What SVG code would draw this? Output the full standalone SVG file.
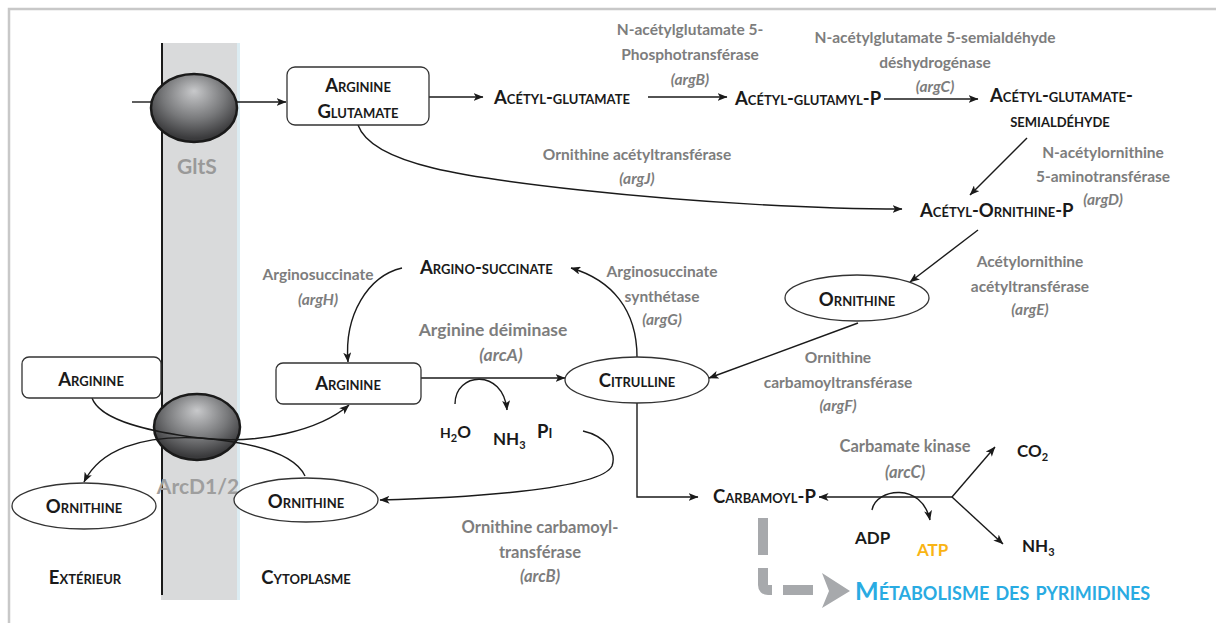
<svg xmlns="http://www.w3.org/2000/svg" width="1216" height="623" viewBox="0 0 1216 623">
<defs>
<style>
.n{font-family:Lato,"Liberation Sans",sans-serif;font-weight:bold;font-size:18.5px;font-variant:small-caps;fill:#1a1a1a}
.c{font-family:Lato,"Liberation Sans",sans-serif;font-weight:bold;font-size:17px;fill:#1a1a1a}
.e{font-family:Lato,"Liberation Sans",sans-serif;font-weight:bold;font-size:15.5px;fill:#7d7d7d;text-anchor:middle}
.i{font-style:italic}
.m{text-anchor:middle}
.ln{fill:none;stroke:#1a1a1a;stroke-width:1.4}
.ar{marker-end:url(#ah)}
.box{fill:#fff;stroke:#333;stroke-width:1.3}
.tr{fill:url(#tg);stroke:#1a1a1a;stroke-width:2.5}
.gd{fill:none;stroke:#a7a9ac;stroke-width:10}
</style>
<radialGradient id="tg" cx="50%" cy="35%" r="60%" fx="50%" fy="25%">
<stop offset="0" stop-color="#c8c9cb"/>
<stop offset="0.6" stop-color="#77787a"/>
<stop offset="1" stop-color="#3a3a3c"/>
</radialGradient>
<marker id="ah" viewBox="0 0 10 8" refX="9.5" refY="4" markerWidth="10" markerHeight="8" markerUnits="userSpaceOnUse" orient="auto">
<path d="M0,0 L10,4 L0,8 L2.5,4 z" fill="#1a1a1a"/>
</marker>
</defs>
<rect width="1216" height="623" fill="#fff"/>
<path d="M9,623 V9 H1216" fill="none" stroke="#c8c8c8" stroke-width="2.5"/>

<g id="membrane">
<rect x="161" y="43" width="79" height="557" fill="#d9dadb"/>
<rect x="237" y="43" width="3" height="557" fill="#dcecf2"/>
<line x1="162" y1="43" x2="162" y2="595" stroke="#1a1a1a" stroke-width="2"/>
<text x="197" y="174" class="m" style="font-family:Lato,'Liberation Sans',sans-serif;font-size:21px;font-weight:bold;fill:#999">GltS</text>
<text x="198" y="494" class="m" style="font-family:Lato,'Liberation Sans',sans-serif;font-size:21px;font-weight:bold;fill:#9e9e9e">ArcD1/2</text>
</g>

<g id="connectors">
<path class="ln" d="M132,102 H152"/>
<path class="ln ar" d="M236,102 H286"/>
<path class="ln ar" d="M429,97 H483"/>
<path class="ln ar" d="M648,97 H727"/>
<path class="ln ar" d="M884,99 H978"/>
<path class="ln ar" d="M1027,138 L970,195"/>
<path class="ln ar" d="M358,125 C372,165 470,178 580,190 C700,203 820,209 902,209"/>
<path class="ln ar" d="M978,230 L910,282"/>
<path class="ln ar" d="M858,323 L709,378"/>
<path class="ln ar" d="M421,378 H565"/>
<path class="ln ar" d="M455,404 C455,372 503,368 507,410"/>
<path class="ln ar" d="M637,357 C637,310 612,280 571,268"/>
<path class="ln ar" d="M402,268 C368,276 344,315 348,362"/>
<path class="ln ar" d="M637,403 V497 H698"/>
<path class="ln ar" d="M583,431 C605,436 617,452 612,466 C600,490 460,498 380,500"/>
<path class="ln ar" d="M952,497 H819"/>
<path class="ln ar" d="M952,497 L995,447"/>
<path class="ln ar" d="M952,497 L1003,544"/>
<path class="ln ar" d="M872,510 C876,488 922,482 930,520"/>
<path class="gd" d="M763,518 V555"/>
<path class="gd" d="M763,568 V585 Q763,590 768,590 H772" stroke-linejoin="round"/>
<path class="gd" d="M783,590 H813"/>
<path d="M822,573 L850,591 L822,608 L829,591 z" fill="#a7a9ac"/>
</g>

<g id="gltS"><ellipse cx="194" cy="108" rx="43" ry="34" class="tr"/></g>
<g id="arcD"><ellipse cx="197" cy="427" rx="43" ry="33" class="tr"/></g>

<g id="arcD-connectors">
<path class="ln ar" d="M92,398 C100,420 150,432 200,438 C260,445 320,430 349,405"/>
<path class="ln ar" d="M305,476 C295,455 260,443 200,438 C140,435 100,450 84,482"/>
</g>

<g id="arginine-glutamate">
<rect x="287" y="67" width="142" height="58" rx="8" class="box"/>
<text x="358" y="92" class="n m">Arginine</text>
<text x="358" y="118" class="n m">Glutamate</text>
</g>
<g id="acetyl-glutamate"><text x="562" y="104" class="n m">Acétyl-glutamate</text></g>
<g id="acetyl-glutamyl-p"><text x="735" y="105" class="n">Acétyl-glutamyl-P</text></g>
<g id="acetyl-glutamate-semialdehyde">
<text x="990" y="102" class="n">Acétyl-glutamate-</text>
<text x="1060" y="127" class="n m">semialdéhyde</text>
</g>
<g id="acetyl-ornithine-p"><text x="920" y="217" class="n">Acétyl-Ornithine-P</text></g>
<g id="ornithine-c"><ellipse cx="857" cy="298" rx="72" ry="23" class="box"/><text x="857" y="306" class="n m">Ornithine</text></g>
<g id="citrulline"><ellipse cx="637" cy="380" rx="72" ry="23" class="box"/><text x="637" y="387" class="n m">Citrulline</text></g>
<g id="argino-succinate"><text x="420" y="274" class="n">Argino-succinate</text></g>
<g id="arginine-cyto"><rect x="276" y="363" width="145" height="41" rx="7" class="box"/><text x="348" y="390" class="n m">Arginine</text></g>
<g id="arginine-ext"><rect x="22" y="357" width="139" height="41" rx="7" class="box"/><text x="91" y="386" class="n m">Arginine</text></g>
<g id="ornithine-ext"><ellipse cx="84" cy="506" rx="72" ry="23" class="box"/><text x="84" y="513" class="n m">Ornithine</text></g>
<g id="ornithine-cyto"><ellipse cx="306" cy="500" rx="72" ry="22" class="box"/><text x="306" y="508" class="n m">Ornithine</text></g>
<g id="carbamoyl-p"><text x="713" y="503" class="n">Carbamoyl-P</text></g>
<g id="compartments">
<text x="85" y="584" class="n m">Extérieur</text>
<text x="306" y="584" class="n m">Cytoplasme</text>
</g>
<g id="small-molecules">
<text x="440" y="438" class="c"><tspan font-size="14">H</tspan><tspan font-size="11" dy="4">2</tspan><tspan dy="-4">O</tspan></text>
<text x="493" y="445" class="c">NH<tspan font-size="11" dy="4">3</tspan></text>
<text x="537" y="438" class="n">Pi</text>
<text x="1017" y="457" class="c">CO<tspan font-size="11" dy="4">2</tspan></text>
<text x="1022" y="552" class="c">NH<tspan font-size="11" dy="4">3</tspan></text>
<text x="855" y="544" class="c">ADP</text>
<text x="917" y="556" class="c" style="fill:#f9b414">ATP</text>
</g>
<g id="pyrimidines"><text x="855" y="600" class="n" style="font-size:25px;fill:#29abe2">Métabolisme des pyrimidines</text></g>

<g id="enzymes">
<text x="690" y="35" class="e">N-acétylglutamate 5-</text>
<text x="690" y="60" class="e">Phosphotransférase</text>
<text x="690" y="85" class="e i">(argB)</text>
<text x="935" y="43" class="e">N-acétylglutamate 5-semialdéhyde</text>
<text x="935" y="68" class="e">déshydrogénase</text>
<text x="935" y="92" class="e i">(argC)</text>
<text x="637" y="160" class="e">Ornithine acétyltransférase</text>
<text x="637" y="184" class="e i">(argJ)</text>
<text x="1103" y="158" class="e">N-acétylornithine</text>
<text x="1103" y="182" class="e">5-aminotransférase</text>
<text x="1103" y="205" class="e i">(argD)</text>
<text x="1030" y="267" class="e">Acétylornithine</text>
<text x="1030" y="292" class="e">acétyltransférase</text>
<text x="1030" y="315" class="e i">(argE)</text>
<text x="662" y="277" class="e">Arginosuccinate</text>
<text x="662" y="302" class="e">synthétase</text>
<text x="662" y="325" class="e i">(argG)</text>
<text x="318" y="280" class="e">Arginosuccinate</text>
<text x="318" y="305" class="e i">(argH)</text>
<text x="493" y="336" class="e" style="font-size:17.5px">Arginine déiminase</text>
<text x="501" y="361" class="e i" style="font-size:17.5px">(arcA)</text>
<text x="838" y="363" class="e">Ornithine</text>
<text x="838" y="388" class="e">carbamoyltransférase</text>
<text x="838" y="411" class="e i">(argF)</text>
<text x="905" y="452" class="e" style="font-size:16.5px">Carbamate kinase</text>
<text x="905" y="478" class="e i" style="font-size:16.5px">(arcC)</text>
<text x="540" y="533" class="e" style="font-size:16.5px">Ornithine carbamoyl-</text>
<text x="540" y="558" class="e" style="font-size:16.5px">transférase</text>
<text x="540" y="582" class="e i" style="font-size:16.5px">(arcB)</text>
</g>
</svg>
